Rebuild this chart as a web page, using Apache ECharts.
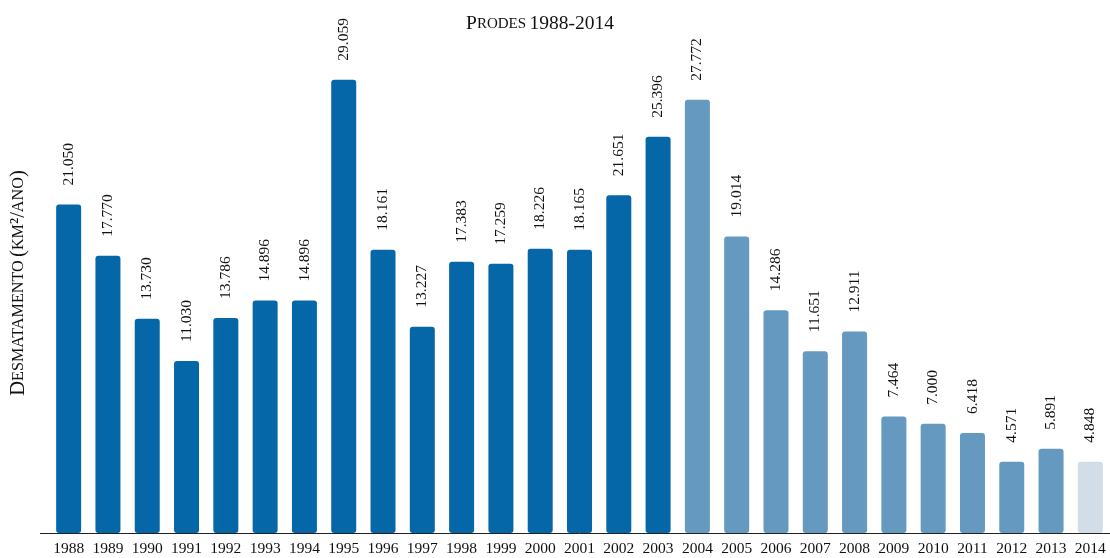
<!DOCTYPE html>
<html>
<head>
<meta charset="utf-8">
<script src="https://cdn.jsdelivr.net/npm/echarts@6/dist/echarts.min.js"></script>
<style>
  html, body { margin: 0; padding: 0; background: #fff; }
  #chart { width: 1110px; height: 558px; }
</style>
</head>
<body>
<div id="chart"></div>
<script>
// PRODES desmatamento anual (km²/ano)
const years = ['1988','1989','1990','1991','1992','1993','1994','1995','1996','1997','1998','1999','2000',
  '2001','2002','2003','2004','2005','2006','2007','2008','2009','2010','2011','2012','2013','2014']
// altura das barras
const desmatamento = [21050, 17770, 13730, 11030, 13786, 14896, 14896, 29059, 18161, 13227, 17383, 17259, 18226,
  18165, 21651, 25396, 27772, 19014, 14286, 11651, 12911, 7464, 7000, 6418, 4571, 5400, 4571]
// rótulos publicados
const rotulos = ['21.050', '17.770', '13.730', '11.030', '13.786', '14.896', '14.896', '29.059', '18.161', '13.227',
  '17.383', '17.259', '18.226', '18.165', '21.651', '25.396', '27.772', '19.014', '14.286', '11.651', '12.911',
  '7.464', '7.000', '6.418', '4.571', '5.891', '4.848']

const FONT = '"Liberation Serif", "DejaVu Serif", serif'

// cor por período
const barColor = (year) => {
  const y = +year
  if (y <= 2003) return '#0566a8'
  if (y <= 2013) return '#6599bf'
  return '#d3dde8'
}

const smallCaps = (big, small) => ({
  b: { fontFamily: FONT, fontSize: big, fill: '#111' },
  s: { fontFamily: FONT, fontSize: small, fill: '#111' }
})

const chart = echarts.init(document.getElementById('chart'))
chart.setOption({
  animation: false,
  grid: { left: 49, right: -1, top: 65, bottom: 25 },
  graphic: [{
    type: 'text',
    x: 540,
    y: 24,
    style: {
      text: '{b|P}{s|RODES} {b|1988-2014}',
      align: 'center',
      verticalAlign: 'middle',
      rich: smallCaps(19.5, 15)
    }
  }, {
    type: 'text',
    x: 19,
    y: 283,
    rotation: Math.PI / 2,
    style: {
      text: '{b|D}{s|ESMATAMENTO} {b|(}{s|KM}{b|²/}{s|ANO}{b|)}',
      align: 'center',
      verticalAlign: 'middle',
      rich: smallCaps(20.5, 16.2)
    }
  }, {
    type: 'line',
    shape: { x1: 40, y1: 533.5, x2: 49, y2: 533.5 },
    style: { stroke: '#222', lineWidth: 1 }
  }],
  xAxis: {
    type: 'category',
    data: years,
    axisLine: { lineStyle: { color: '#222', width: 1 } },
    axisTick: { length: 7, interval: (i) => i > 0, lineStyle: { color: '#222' } },
    axisLabel: { interval: 0, margin: 8, color: '#111', fontFamily: FONT, fontSize: 15.5 }
  },
  yAxis: {
    type: 'value',
    min: 0,
    max: 30000,
    axisLine: { show: false },
    axisTick: { show: false },
    axisLabel: { show: false },
    splitLine: { show: false }
  },
  series: [{
    type: 'bar',
    data: desmatamento.map((v, i) => ({ value: v, itemStyle: { color: barColor(years[i]) } })),
    barWidth: 25,
    itemStyle: { borderRadius: 3 },
    label: {
      show: true,
      position: 'top',
      rotate: 90,
      align: 'left',
      verticalAlign: 'middle',
      distance: 19,
      color: '#111',
      fontFamily: FONT,
      fontSize: 15.5,
      formatter: (p) => rotulos[p.dataIndex]
    }
  }]
})
</script>
</body>
</html>
